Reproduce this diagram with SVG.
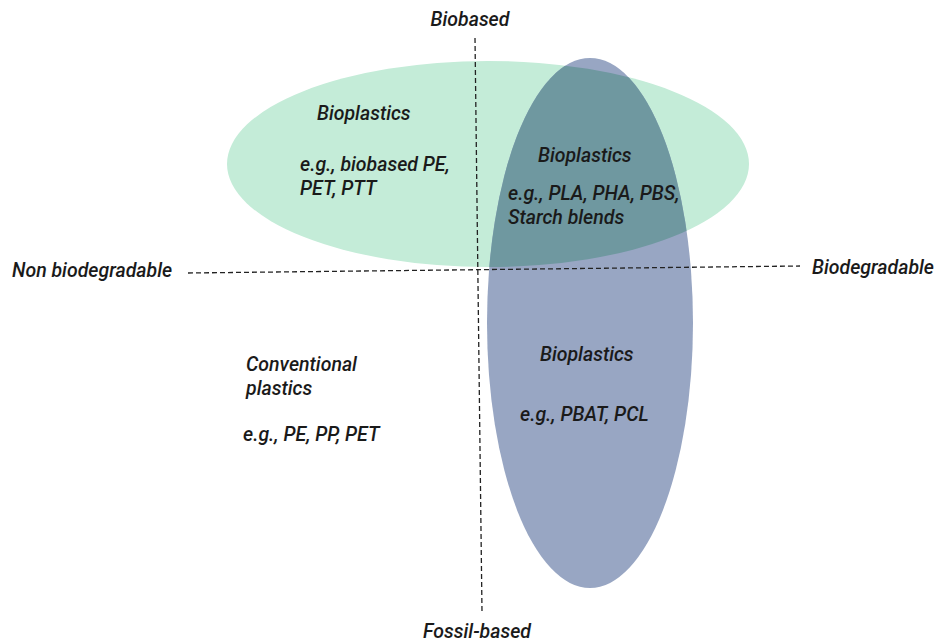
<svg xmlns="http://www.w3.org/2000/svg" width="936" height="644" viewBox="0 0 936 644">
<defs>
<style>
text{font-family:"Roboto","Liberation Sans",sans-serif;font-style:italic;font-weight:500;font-size:19.5px;fill:#1a1a1a}
.axis{stroke:#222;stroke-width:1.3;stroke-dasharray:5 3;fill:none}
</style>
<clipPath id="greenClip"><ellipse cx="488" cy="164" rx="261" ry="103"/></clipPath>
</defs>
<rect width="936" height="644" fill="#fff"/>
<g id="biobased-ellipse"><ellipse cx="488" cy="164" rx="261" ry="103" fill="#c4ecd8"/></g>
<g id="biodegradable-ellipse">
<ellipse cx="590" cy="323" rx="103" ry="265" fill="#98a6c3"/>
<ellipse cx="590" cy="323" rx="103" ry="265" fill="#6f98a0" clip-path="url(#greenClip)"/>
</g>
<g id="axes">
<line class="axis" x1="475" y1="38" x2="482" y2="612"/>
<line class="axis" x1="188" y1="273" x2="800" y2="266"/>
</g>
<g id="axis-labels">
<text x="470" y="26" text-anchor="middle">Biobased</text>
<text x="477" y="638" text-anchor="middle">Fossil-based</text>
<text x="12" y="277">Non biodegradable</text>
<text x="812" y="274">Biodegradable</text>
</g>
<g id="biobased-nonbiodeg">
<text x="317" y="120">Bioplastics</text>
<text x="300" y="171">e.g., biobased PE,</text>
<text x="300" y="195">PET, PTT</text>
</g>
<g id="biobased-biodeg">
<text x="538" y="162">Bioplastics</text>
<text x="508" y="200">e.g., PLA, PHA, PBS,</text>
<text x="508" y="224">Starch blends</text>
</g>
<g id="fossil-biodeg">
<text x="540" y="361">Bioplastics</text>
<text x="520" y="421">e.g., PBAT, PCL</text>
</g>
<g id="conventional">
<text x="246" y="371">Conventional</text>
<text x="246" y="395">plastics</text>
<text x="243" y="441">e.g., PE, PP, PET</text>
</g>
</svg>
